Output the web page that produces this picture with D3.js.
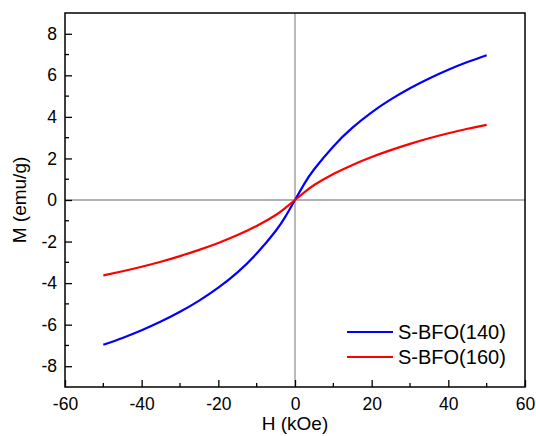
<!DOCTYPE html>
<html>
<head>
<meta charset="utf-8">
<script src="https://cdn.jsdelivr.net/npm/d3@7"></script>
<style>
  body { margin: 0; background: #fff; overflow: hidden; }
  svg { display: block; }
  text { font-family: "Liberation Sans", Arial, sans-serif; fill: #000; }
</style>
</head>
<body>
<svg id="chart" width="536" height="436"></svg>
<script>
// field (kOe) and magnetisation (emu/g)
var fieldH = [-50, -45, -40, -35, -30, -25, -20, -15, -10, -5, -2.5, 0,
              2.5, 5, 10, 15, 20, 25, 30, 35, 40, 45, 50];
var bfo140 = [-6.97, -6.64, -6.27, -5.85, -5.38, -4.84, -4.22, -3.48, -2.58, -1.48, -0.80, 0,
              0.80, 1.48, 2.58, 3.48, 4.22, 4.84, 5.38, 5.85, 6.27, 6.64, 6.97];
var bfo160 = [-3.63, -3.43, -3.21, -2.97, -2.70, -2.40, -2.07, -1.69, -1.25, -0.72, -0.38, 0,
              0.38, 0.72, 1.25, 1.69, 2.07, 2.40, 2.70, 2.97, 3.21, 3.43, 3.62];
var seriesNames = ["S-BFO(140)", "S-BFO(160)"];
var seriesColors = ["#0000ff", "#ff0000"];
var xTicks = [-60, -40, -20, 0, 20, 40, 60];
var yTicks = [-8, -6, -4, -2, 0, 2, 4, 6, 8];

var margin = {top: 13, right: 11, bottom: 49, left: 65},
    width = 536,
    height = 436,
    innerWidth = width - margin.left - margin.right,
    innerHeight = height - margin.top - margin.bottom;

var svg = d3.select("#chart");
var g = svg.append("g").attr("transform", "translate(" + margin.left + "," + margin.top + ")");

var xScale = d3.scaleLinear().domain([-60, 60]).range([0, innerWidth]);
var yScale = d3.scaleLinear().domain([-9, 9]).range([innerHeight, 0]);

// zero lines
g.append("line")
    .attr("x1", xScale(0)).attr("x2", xScale(0))
    .attr("y1", 0).attr("y2", innerHeight)
    .attr("stroke", "#8c8c8c").attr("stroke-width", 1.2);
g.append("line")
    .attr("x1", 0).attr("x2", innerWidth)
    .attr("y1", yScale(0)).attr("y2", yScale(0))
    .attr("stroke", "#666").attr("stroke-width", 1.2);

// curves
var line = d3.line()
    .x(function (d) { return xScale(d[0]); })
    .y(function (d) { return yScale(d[1]); })
    .curve(d3.curveNatural);

[bfo140, bfo160].forEach(function (vals, i) {
  var pts = fieldH.map(function (h, j) { return [h, vals[j]]; });
  g.append("path")
      .datum(pts)
      .attr("d", line)
      .attr("fill", "none")
      .attr("stroke", seriesColors[i])
      .attr("stroke-width", 2.2);
});

// minor ticks (inward)
var xMinor = d3.range(-50, 60, 20);
var yMinor = d3.range(-7, 9, 2);
g.selectAll(".xminor").data(xMinor).enter().append("line")
    .attr("x1", function (d) { return xScale(d); })
    .attr("x2", function (d) { return xScale(d); })
    .attr("y1", innerHeight).attr("y2", innerHeight - 4)
    .attr("stroke", "#000").attr("stroke-width", 1.3);
g.selectAll(".yminor").data(yMinor).enter().append("line")
    .attr("x1", 0).attr("x2", 4)
    .attr("y1", function (d) { return yScale(d); })
    .attr("y2", function (d) { return yScale(d); })
    .attr("stroke", "#000").attr("stroke-width", 1.3);

// axes, plain hyphen for negatives like the original
var fmt = function (d) { return String(d); };
var xAxis = g.append("g")
    .attr("transform", "translate(0," + innerHeight + ")")
    .call(d3.axisBottom(xScale).tickValues(xTicks).tickFormat(fmt)
      .tickSizeInner(-7).tickSizeOuter(0).tickPadding(11));
var yAxis = g.append("g")
    .call(d3.axisLeft(yScale).tickValues(yTicks).tickFormat(fmt)
      .tickSizeInner(-7).tickSizeOuter(0).tickPadding(8));

[xAxis, yAxis].forEach(function (ax) {
  ax.select(".domain").remove();
  ax.selectAll(".tick line").attr("stroke", "#000").attr("stroke-width", 1.3);
  ax.selectAll(".tick text").attr("font-size", 17.5).attr("font-family", "Liberation Sans, Arial, sans-serif");
});

// frame
g.append("rect")
    .attr("x", 0).attr("y", 0)
    .attr("width", innerWidth).attr("height", innerHeight)
    .attr("fill", "none").attr("stroke", "#000").attr("stroke-width", 1.5);

// axis titles
g.append("text")
    .attr("x", innerWidth / 2).attr("y", innerHeight + 43)
    .attr("text-anchor", "middle").attr("font-size", 19)
    .text("H (kOe)");
g.append("text")
    .attr("transform", "translate(-39," + (innerHeight / 2) + ") rotate(-90)")
    .attr("text-anchor", "middle").attr("font-size", 19)
    .text("M (emu/g)");

// legend
var legend = g.append("g").attr("transform", "translate(" + (347 - margin.left) + "," + (332 - margin.top) + ")");
seriesNames.forEach(function (name, i) {
  var row = legend.append("g").attr("transform", "translate(0," + (i * 25) + ")");
  row.append("line")
      .attr("x1", 0).attr("x2", 46)
      .attr("stroke", seriesColors[i]).attr("stroke-width", 2);
  row.append("text")
      .attr("x", 51).attr("dy", "0.35em")
      .attr("font-size", 20)
      .text(name);
});
</script>
</body>
</html>
